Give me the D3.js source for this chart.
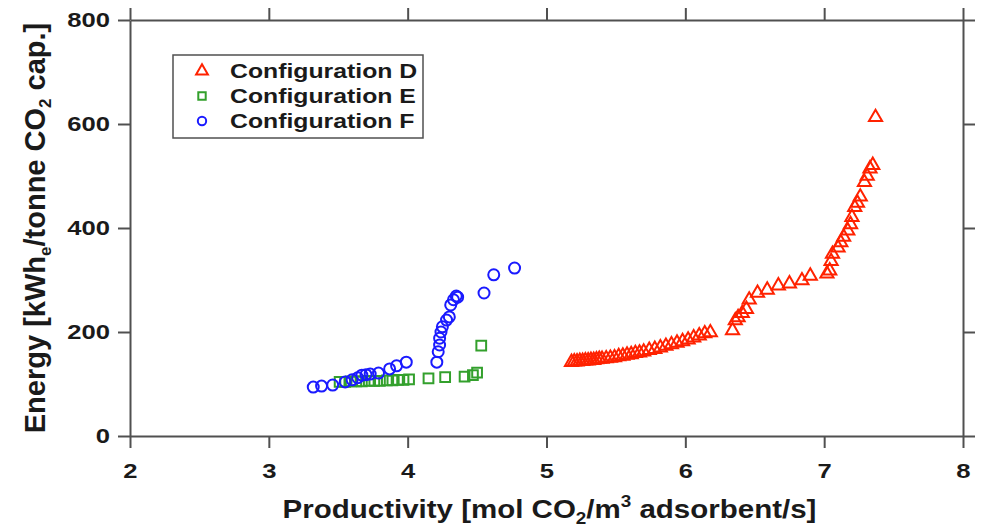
<!DOCTYPE html>
<html>
<head>
<meta charset="utf-8">
<script src="https://cdn.jsdelivr.net/npm/d3@7"></script>
<style>
  body { margin: 0; background: #fff; }
  text { font-family: "Liberation Sans", Arial, sans-serif; font-weight: bold; }
</style>
</head>
<body>
<div id="chart"></div>
<script>
// Configuration D (red triangles)
const dX = [5.18, 5.20, 5.22, 5.24, 5.26, 5.28, 5.30, 5.32, 5.34, 5.36, 5.38, 5.40, 5.43, 5.46, 5.49,
            5.52, 5.55, 5.58, 5.61, 5.64, 5.67, 5.70, 5.74, 5.78, 5.82, 5.86, 5.90, 5.94, 5.98, 6.02,
            6.06, 6.10, 6.14, 6.18, 6.34, 6.36, 6.38, 6.41, 6.44, 6.46, 6.52, 6.59, 6.67, 6.75, 6.84,
            6.90, 7.02, 7.04, 7.05, 7.06, 7.10, 7.12, 7.14, 7.17, 7.19, 7.20, 7.22, 7.24, 7.26, 7.29,
            7.31, 7.33, 7.35, 7.37];
const dY = [142, 143, 143, 144, 144, 145, 145, 146, 146, 147, 148, 148, 149, 150, 151,
            153, 154, 156, 157, 159, 160, 162, 165, 167, 170, 173, 176, 179, 182, 185,
            189, 193, 197, 199, 203, 222, 228, 236, 244, 262, 275, 281, 289, 293, 299,
            308, 312, 318, 336, 350, 362, 372, 383, 395, 407, 421, 440, 448, 460, 488,
            500, 514, 521, 613];

// Configuration E (green squares)
const eX = [3.51, 3.55, 3.59, 3.63, 3.67, 3.72, 3.76, 3.80, 3.85, 3.89, 3.93, 3.97, 4.01,
            4.15, 4.27, 4.41, 4.47, 4.50, 4.53];
const eY = [104, 104, 105, 105, 105, 106, 106, 106, 107, 107, 108, 108, 109,
            111, 113, 114, 117, 122, 174];

// Configuration F (blue circles)
const fX = [3.32, 3.38, 3.46, 3.55, 3.60, 3.64, 3.67, 3.70, 3.73, 3.79, 3.87, 3.92, 3.99,
            4.21, 4.22, 4.23, 4.23, 4.24, 4.25, 4.28, 4.30, 4.31, 4.33, 4.35, 4.36,
            4.55, 4.62, 4.77];
const fY = [94, 96, 98, 104, 108, 112, 117, 118, 119, 121, 129, 135, 142,
            142, 162, 175, 188, 200, 210, 223, 229, 252, 262, 269, 267,
            275, 310, 323];

const seriesNames = ["Configuration D", "Configuration E", "Configuration F"];
const seriesColors = ["#ff2200", "#33a02c", "#1a1aff"];
const xTicks = [2, 3, 4, 5, 6, 7, 8];
const yTicks = [0, 200, 400, 600, 800];

const W = 982, H = 529;
const margin = {top: 20, right: 19, bottom: 93, left: 130};
const width = W - margin.left - margin.right,
      height = H - margin.top - margin.bottom;

// the original figure's lettering is wider than Arial, so stretch it sideways
const stretch = 1.22;

const svg = d3.select("#chart").append("svg")
    .attr("width", W)
    .attr("height", H);

const g = svg.append("g")
    .attr("transform", "translate(" + margin.left + "," + margin.top + ")");

const x = d3.scaleLinear().domain([2, 8]).range([0, width]);
const y = d3.scaleLinear().domain([0, 800]).range([height, 0]);

const axisColor = "#505050";

// axes on all four sides, ticks outward
const axBottom = g.append("g")
    .attr("transform", "translate(0," + height + ")")
    .call(d3.axisBottom(x).tickValues(xTicks).tickSize(12).tickSizeOuter(0).tickPadding(15).tickFormat(d3.format("d")));
const axTop = g.append("g")
    .call(d3.axisTop(x).tickValues(xTicks).tickSize(12).tickSizeOuter(0).tickFormat(""));
const axLeft = g.append("g")
    .call(d3.axisLeft(y).tickValues(yTicks).tickSize(12).tickSizeOuter(0).tickPadding(8).tickFormat(d3.format("d")));
const axRight = g.append("g")
    .attr("transform", "translate(" + width + ",0)")
    .call(d3.axisRight(y).tickValues(yTicks).tickSize(12).tickSizeOuter(0).tickFormat(""));

[axBottom, axTop, axLeft, axRight].forEach(function(a) {
  a.select(".domain").attr("stroke", axisColor).attr("stroke-width", 2);
  a.selectAll(".tick line").attr("stroke", axisColor).attr("stroke-width", 2);
  a.selectAll(".tick text").attr("fill", "#1a1a1a").style("font-size", "21px")
    .attr("x", function() { return +d3.select(this).attr("x") / stretch || 0; })
    .attr("transform", "scale(" + stretch + ",1)");
});

// axis titles
const xt = svg.append("text")
    .attr("transform", "translate(" + (margin.left + width / 2 + 3) + ",518) scale(1.18,1)")
    .attr("text-anchor", "middle")
    .attr("fill", "#1a1a1a")
    .style("font-size", "25px");
xt.append("tspan").text("Productivity [mol CO");
xt.append("tspan").attr("dy", 6).style("font-size", "16px").text("2");
xt.append("tspan").attr("dy", -6).text("/m");
xt.append("tspan").attr("dy", -11).style("font-size", "16px").text("3");
xt.append("tspan").attr("dy", 11).text(" adsorbent/s]");

const yt = svg.append("text")
    .attr("transform", "translate(45," + (margin.top + height / 2) + ") rotate(-90)")
    .attr("text-anchor", "middle")
    .attr("fill", "#1a1a1a")
    .style("font-size", "29px");
yt.append("tspan").text("Energy [kWh");
yt.append("tspan").attr("dy", 6).style("font-size", "17px").text("e");
yt.append("tspan").attr("dy", -6).text("/tonne CO");
yt.append("tspan").attr("dy", 6).style("font-size", "17px").text("2");
yt.append("tspan").attr("dy", -6).text(" cap.]");

// markers
const tri = d3.symbol().type(d3.symbolTriangle).size(75);
const sq = d3.symbol().type(d3.symbolSquare).size(95);

g.append("g").selectAll("path")
    .data(d3.zip(eX, eY))
    .join("path")
    .attr("transform", d => "translate(" + x(d[0]) + "," + y(d[1]) + ")")
    .attr("d", sq)
    .attr("fill", "none")
    .attr("stroke", seriesColors[1])
    .attr("stroke-width", 2);

g.append("g").selectAll("circle")
    .data(d3.zip(fX, fY))
    .join("circle")
    .attr("cx", d => x(d[0]))
    .attr("cy", d => y(d[1]))
    .attr("r", 5.5)
    .attr("fill", "none")
    .attr("stroke", seriesColors[2])
    .attr("stroke-width", 2);

g.append("g").selectAll("path")
    .data(d3.zip(dX, dY))
    .join("path")
    .attr("transform", d => "translate(" + x(d[0]) + "," + y(d[1]) + ")")
    .attr("d", tri)
    .attr("fill", "none")
    .attr("stroke", seriesColors[0])
    .attr("stroke-width", 2);

// legend
const lg = svg.append("g").attr("transform", "translate(173,55)");
lg.append("rect")
    .attr("width", 250).attr("height", 83)
    .attr("fill", "#fff").attr("stroke", axisColor).attr("stroke-width", 1.5);
const legendSyms = [
  d3.symbol().type(d3.symbolTriangle).size(60),
  d3.symbol().type(d3.symbolSquare).size(55),
  d3.symbol().type(d3.symbolCircle).size(55)
];
seriesNames.forEach(function(name, i) {
  const row = lg.append("g").attr("transform", "translate(29," + (16 + i * 25) + ")");
  row.append("path").attr("d", legendSyms[i])
    .attr("fill", "none").attr("stroke", seriesColors[i]).attr("stroke-width", 2);
  row.append("text").attr("transform", "translate(28,7) scale(1.24,1)")
    .attr("fill", "#1a1a1a").style("font-size", "20px").text(name);
});
</script>
</body>
</html>
